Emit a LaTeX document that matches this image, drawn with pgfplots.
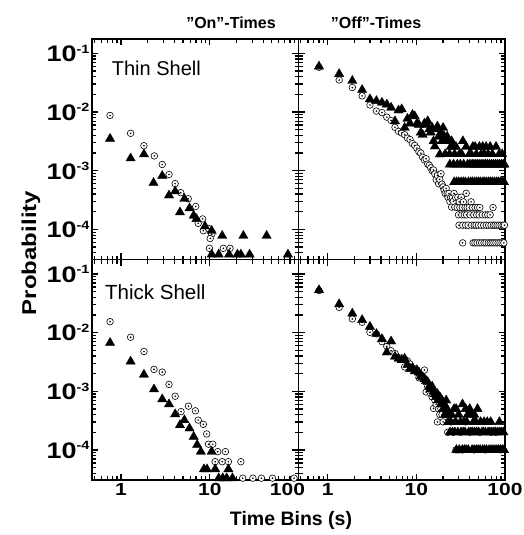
\documentclass[border=0pt]{standalone}
\usepackage{fontspec}
\setmainfont{Liberation Sans}
\newfontfamily\tickfont[FakeStretch=1.2]{Liberation Sans}
\usepackage{pgfplots}
\pgfplotsset{compat=1.18}
\usepgfplotslibrary{groupplots}

% open circle with a dot in the middle
\pgfdeclareplotmark{odot}{%
  \pgfpathcircle{\pgfpointorigin}{\pgfplotmarksize}%
  \pgfusepathqfillstroke
  \pgfpathcircle{\pgfpointorigin}{0.15\pgfplotmarksize}%
  \pgfusepathqfillstroke
}
\newcommand{\yl}[1]{10\raisebox{8.5pt}{\fontsize{12}{12}\selectfont #1}}
\newcommand{\qq}{\symbol{34}}

\pgfplotsset{
  circ/.style={only marks, mark=odot, mark size=3.3pt,
    mark options={draw=black, fill=white, line width=0.6pt}},
  tri/.style={only marks, mark=triangle*, mark size=5.4pt,
    mark options={draw=black, fill=black, line width=0.3pt}},
}

\begin{document}
\begin{tikzpicture}
\begin{groupplot}[
  group style={group size=2 by 2, horizontal sep=0pt, vertical sep=0pt,
    group name=G, x descriptions at=edge bottom, y descriptions at=edge left},
  scale only axis, width=206.5pt, height=220.5pt,
  xmode=log, ymode=log,
  xmin=0.47, xmax=100, ymin=3.07e-5, ymax=0.176,
  xtick={1,10,100}, ytick={1e-4,1e-3,1e-2,1e-1},
  minor xtick={0.5,0.6,0.7,0.8,0.9,2,3,4,5,6,7,8,9,20,30,40,50,60,70,80,90},
  minor ytick={4e-5,5e-5,6e-5,7e-5,8e-5,9e-5,2e-4,3e-4,4e-4,5e-4,6e-4,7e-4,8e-4,9e-4,
    2e-3,3e-3,4e-3,5e-3,6e-3,7e-3,8e-3,9e-3,2e-2,3e-2,4e-2,5e-2,6e-2,7e-2,8e-2,9e-2},
  xticklabels={1,10,100},
  yticklabels={\yl{-4},\yl{-3},\yl{-2},\yl{-1}},
  tick align=inside,
  major tick length=6.5pt, minor tick length=4pt,
  axis line style={line width=1.7pt},
  tick style={black, line width=1.2pt},
  x tick label style={font=\tickfont\bfseries\fontsize{17.5}{18}\selectfont},
  y tick label style={font=\tickfont\bfseries\fontsize{22.5}{22}\selectfont, xshift=1pt},
]

% ---- Thin shell, "On"-times
\nextgroupplot[clip=false]
\addplot[circ] coordinates {(0.75,8.77e-3) (1.28,4.34e-3) (1.81,2.67e-3) (2.37,1.79e-3)
  (2.91,1.28e-3) (3.47,8.63e-4) (4.07,6.04e-4) (4.70,4.23e-4) (5.71,3.33e-4) (6.94,2.46e-4)
  (7.40,1.27e-4) (8.30,1.51e-4) (8.45,9.5e-5) (9.66,1.04e-4) (10.5,8.3e-5) (10.1,7.0e-5)
  (9.9,4.76e-5) (14.2,4.76e-5) (16.9,4.76e-5)};
\addplot[tri] coordinates {(0.751,3.52e-3) (1.28,1.63e-3) (1.81,1.91e-3) (2.32,6.21e-4)
  (2.91,8.2e-4) (3.47,3.81e-4) (4.07,4.47e-4) (4.61,1.96e-4) (5.17,3.33e-4) (5.91,2.3e-4)
  (6.58,1.72e-4) (7.07,1.51e-4) (8.83,1.13e-4) (10.5,9.5e-5) (13.8,7.8e-5) (23.9,7.8e-5)
  (43.7,7.8e-5) (10.5,3.75e-5) (12.6,3.75e-5) (16.5,3.75e-5) (20.5,3.75e-5) (22.4,3.75e-5)
  (28.1,3.75e-5) (76,3.75e-5)};

% ---- Thin shell, "Off"-times
\nextgroupplot
\addplot[circ] coordinates {(0.8,0.058) (1.35,0.0352) (1.9,0.0262) (2.45,0.0189) (3.0,0.0132)
  (3.55,0.0104) (4.1,0.0098) (4.65,0.0082) (5.2,0.0072) (5.75,0.0055) (6.3,0.0047)
  (6.85,0.0044) (7.4,0.0041) (7.95,0.0036) (8.5,0.0034) (9.05,0.0029) (9.6,0.0027)
  (10.15,0.00243) (10.7,0.0021) (11.25,0.0020) (11.8,0.0017) (12.35,0.00153) (12.9,0.0016)
  (13.45,0.0013) (14.0,0.00124) (14.55,0.00112) (15.1,0.0010) (15.65,0.00103) (16.2,0.00088)
  (16.75,0.00071) (17.3,0.00083) (17.85,0.0006) (18.4,0.00071) (18.95,0.00089) (19.5,0.00059)
  (20.05,0.00053) (20.6,0.00047) (21.15,0.00041) (21.7,0.0005) (22.25,0.00041) (22.8,0.00035)
  (23.35,0.00041) (23.9,0.0003) (24.45,0.00035) (25.0,0.00024) (25.55,0.00035) (26.1,0.0003)
  (26.65,0.00041) (27.2,0.00024) (27.75,0.00035)
  (36.5,4.13e-4) (29.4,3.54e-4) (32.2,3.54e-4) (30.5,2.95e-4) (34.0,2.95e-4) (41.5,2.95e-4)
  (28.9,2.36e-4) (31.0,2.36e-4) (33.0,2.36e-4) (35.5,2.36e-4) (37.4,2.36e-4) (39.5,2.36e-4)
  (43.0,2.36e-4) (46.0,2.36e-4) (49.0,2.36e-4) (52.0,2.36e-4) (73.3,2.36e-4)
  (29.9,1.77e-4) (32.6,1.77e-4) (34.8,1.77e-4) (36.9,1.77e-4) (40.5,1.77e-4) (44.5,1.77e-4)
  (48.0,1.77e-4) (51.0,1.77e-4) (55.5,1.77e-4) (60.0,1.77e-4) (64.0,1.77e-4) (68.0,1.77e-4)
  (30.3,1.18e-4) (33.4,1.18e-4) (36.0,1.18e-4) (38.4,1.18e-4) (42.0,1.18e-4) (45.0,1.18e-4)
  (47.2,1.18e-4) (50.2,1.18e-4) (53.7,1.18e-4) (57.5,1.18e-4) (61.5,1.18e-4) (65.5,1.18e-4)
  (69.6,1.18e-4) (73.9,1.18e-4) (77.2,1.18e-4) (81.3,1.18e-4) (85.6,1.18e-4) (90.2,1.18e-4)
  (95.0,1.18e-4) (98.5,1.18e-4)
  (33.3,5.9e-5) (43.6,5.9e-5) (45.8,5.9e-5) (48.4,5.9e-5) (51.5,5.9e-5) (54.6,5.9e-5)
  (58.0,5.9e-5) (61.0,5.9e-5) (64.8,5.9e-5) (68.2,5.9e-5) (71.5,5.9e-5) (75.0,5.9e-5)
  (79.0,5.9e-5) (83.4,5.9e-5) (87.8,5.9e-5) (92.5,5.9e-5) (97.0,5.9e-5)};
\addplot[tri] coordinates {(0.8,0.060) (1.35,0.0447) (1.9,0.0342) (2.45,0.0239) (3.0,0.0166)
  (3.55,0.0155) (4.1,0.0145) (4.65,0.0135) (5.2,0.0119) (5.75,0.0070) (6.3,0.0107)
  (6.85,0.0112) (7.4,0.0054) (7.95,0.0077) (8.5,0.0064) (9.05,0.0090) (9.6,0.0085)
  (10.15,0.0064) (10.7,0.0061) (11.25,0.0045) (11.8,0.0041) (12.35,0.0064) (12.9,0.0061)
  (13.45,0.0070) (14.0,0.0051) (14.55,0.0045) (15.1,0.0054) (15.65,0.0032) (16.2,0.0026)
  (16.75,0.0051) (17.3,0.0057) (17.85,0.0038) (18.4,0.0019) (18.95,0.0045) (19.5,0.0032)
  (20.05,0.0054)
  (20.6,3.84e-3) (22.25,3.84e-3)
  (21.7,3.2e-3) (23.35,3.2e-3) (25.0,3.2e-3) (33.5,3.2e-3)
  (24.45,2.56e-3) (25.8,2.56e-3) (28.0,2.56e-3) (36.5,2.56e-3) (43.4,2.56e-3) (46.0,2.56e-3)
  (51.4,2.56e-3) (56.0,2.56e-3) (61.2,2.56e-3) (68.0,2.56e-3) (79.2,2.56e-3)
  (21.15,1.92e-3) (23.7,1.92e-3) (27.0,1.92e-3) (30.7,1.92e-3) (32.5,1.92e-3) (39.7,1.92e-3)
  (41.5,1.92e-3) (47.5,1.92e-3) (54.0,1.92e-3) (58.5,1.92e-3) (64.5,1.92e-3) (72.0,1.92e-3)
  (86.0,1.92e-3) (93.0,1.92e-3)
  (23.9,1.28e-3) (26.3,1.28e-3) (29.0,1.28e-3) (31.3,1.28e-3) (34.2,1.28e-3) (37.9,1.28e-3)
  (40.2,1.28e-3) (42.6,1.28e-3) (44.5,1.28e-3) (46.9,1.28e-3) (49.3,1.28e-3) (52.0,1.28e-3)
  (55.0,1.28e-3) (57.8,1.28e-3) (60.5,1.28e-3) (63.5,1.28e-3) (66.9,1.28e-3) (70.5,1.28e-3)
  (74.0,1.28e-3) (78.0,1.28e-3) (82.0,1.28e-3) (86.5,1.28e-3) (91.0,1.28e-3) (95.5,1.28e-3)
  (98.5,1.28e-3)
  (26.7,6.4e-4) (28.4,6.4e-4) (30.0,6.4e-4) (32.0,6.4e-4) (33.9,6.4e-4) (35.8,6.4e-4)
  (38.7,6.4e-4) (41.0,6.4e-4) (43.0,6.4e-4) (45.5,6.4e-4) (48.0,6.4e-4) (50.5,6.4e-4)
  (53.0,6.4e-4) (56.5,6.4e-4) (59.0,6.4e-4) (62.0,6.4e-4) (65.5,6.4e-4) (68.5,6.4e-4)
  (72.0,6.4e-4) (76.0,6.4e-4) (80.0,6.4e-4) (84.0,6.4e-4) (88.5,6.4e-4) (93.0,6.4e-4)
  (97.5,6.4e-4)};

% ---- Thick shell, "On"-times
\nextgroupplot[clip=false, xticklabels={1,10,{\hspace*{-22pt}100}}]
\addplot[circ] coordinates {(0.751,0.01535) (1.28,0.00833) (1.81,0.00476) (2.35,0.00236)
  (2.91,0.00212) (3.47,0.00131) (4.07,8.22e-4) (4.74,4.5e-4) (5.75,5.57e-4) (6.88,4.64e-4)
  (7.40,3.22e-4) (8.45,2.73e-4) (9.23,1.87e-4) (9.66,1.25e-4) (10.8,1.25e-4) (12.3,9.35e-5)
  (15.0,9.35e-5) (11.5,6.3e-5) (13.8,6.3e-5) (16.2,6.3e-5) (22.4,6.3e-5) (23.5,3.3e-5)
  (30.6,3.3e-5) (38.2,3.3e-5) (50.9,3.3e-5) (89,3.3e-5)};
\addplot[tri] coordinates {(0.751,0.00669) (1.28,0.00322) (1.81,0.00192) (2.35,0.00108)
  (2.91,7.31e-4) (3.47,6.02e-4) (4.07,4.07e-4) (4.61,2.65e-4) (5.17,3.22e-4) (5.91,2.33e-4)
  (6.58,1.68e-4) (7.2,1.22e-4) (7.93,9.35e-5) (10.5,9.35e-5) (8.59,4.7e-5) (9.3,4.7e-5)
  (11.5,4.7e-5) (16.2,4.7e-5) (12.6,3.3e-5) (14,3.3e-5) (15.5,3.3e-5) (18,3.3e-5)};

% ---- Thick shell, "Off"-times
\nextgroupplot
\addplot[circ] coordinates {(0.8,0.052) (1.35,0.0269) (1.9,0.0171) (2.45,0.0150) (3.0,0.0101)
  (3.55,0.0095) (4.1,0.0070) (4.65,0.0058) (5.2,0.0049) (5.75,0.0044) (6.3,0.0037)
  (6.85,0.0037) (7.4,0.0026) (7.95,0.0033) (8.5,0.0029) (9.05,0.0025) (9.6,0.0024)
  (10.15,0.0021) (10.7,0.0017) (11.25,0.0019) (11.8,0.0018) (12.35,0.0023) (12.9,0.00097)
  (13.45,0.0012) (14.0,0.0011) (14.55,0.0009) (15.1,0.0008) (15.65,0.00051) (16.2,0.0007)
  (16.75,0.0006) (17.3,0.0003) (17.85,0.0005) (18.4,0.0004) (18.95,0.0005) (19.5,0.0004)
  (20.05,0.0003) (21.15,4e-4) (22.6,2e-4) (24.6,3e-4) (26.1,2e-4) (28.0,1e-4) (30.0,1e-4)
  (31.6,2e-4) (33.0,1e-4) (36.0,3e-4) (40.0,2e-4) (45.0,1e-4) (52.0,2e-4) (60.0,1e-4)
  (70.0,2e-4) (79.0,2e-4) (90.0,1e-4)};
\addplot[tri] coordinates {(0.8,0.053) (1.35,0.0306) (1.9,0.0212) (2.45,0.0164) (3.0,0.0126)
  (3.55,0.0095) (4.1,0.0078) (4.65,0.0046) (5.2,0.0071) (5.75,0.0039) (6.3,0.0036)
  (6.85,0.0034) (7.4,0.0036) (7.95,0.0028) (8.5,0.0024) (9.05,0.0025) (9.6,0.0022)
  (10.15,0.0023) (10.7,0.0021) (11.25,0.0018) (11.8,0.00175) (12.35,0.0016) (12.9,0.0015)
  (13.45,0.00144) (14.0,0.0012) (14.55,0.0011) (15.1,0.0012) (15.65,0.0010) (16.2,0.0009)
  (16.75,0.0008) (17.3,0.0009) (17.85,0.0007) (18.4,0.0008) (18.95,0.0006) (19.5,0.0007)
  (20.05,0.0005) (20.6,0.0006) (21.15,0.0004) (21.7,0.0007) (22.25,0.0005) (22.8,0.0003)
  (23.35,0.0004)
  (33.2,6e-4)
  (26.65,5e-4) (28.1,5e-4) (36.0,5e-4) (40.0,5e-4) (49.0,5e-4)
  (25.0,4e-4) (30.0,4e-4) (38.0,4e-4) (42.0,4e-4) (45.0,4e-4)
  (24.45,3e-4) (27.75,3e-4) (31.5,3e-4) (34.5,3e-4) (37.0,3e-4) (44.0,3e-4) (47.0,3e-4)
  (53.0,3e-4) (58.0,3e-4) (63.0,3e-4) (69.0,3e-4) (86.5,3e-4)
  (23.9,2e-4) (25.55,2e-4) (27.2,2e-4) (29.4,2e-4) (32.0,2e-4) (33.8,2e-4) (35.5,2e-4)
  (39.0,2e-4) (41.2,2e-4) (43.0,2e-4) (45.5,2e-4) (48.0,2e-4) (50.5,2e-4) (55.0,2e-4)
  (57.0,2e-4) (60.0,2e-4) (64.5,2e-4) (67.5,2e-4) (71.0,2e-4) (75.0,2e-4) (78.5,2e-4)
  (83.0,2e-4) (87.5,2e-4) (92.0,2e-4) (96.0,2e-4)
  (28.3,1e-4) (30.5,1e-4) (33.0,1e-4) (34.8,1e-4) (36.5,1e-4) (38.5,1e-4) (42.5,1e-4)
  (44.8,1e-4) (47.5,1e-4) (50.0,1e-4) (52.5,1e-4) (56.0,1e-4) (59.0,1e-4) (62.0,1e-4)
  (66.0,1e-4) (69.5,1e-4) (73.0,1e-4) (77.0,1e-4) (81.0,1e-4) (85.0,1e-4) (89.0,1e-4)
  (93.5,1e-4) (97.5,1e-4)};
\end{groupplot}

\node[rotate=90, font=\tickfont\bfseries\fontsize{20}{20}\selectfont]
  at ([shift={(-61pt,-214pt)}]G c1r1.north west) {Probability};
\node[font=\bfseries\fontsize{19.5}{20}\selectfont]
  at ([shift={(199pt,-40pt)}]G c1r2.south west) {Time Bins (s)};
\node[anchor=base, inner sep=0pt, font=\bfseries\fontsize{16}{16}\selectfont]
  at ([shift={(139pt,11pt)}]G c1r1.north west) {\qq On\qq-Times};
\node[anchor=base, inner sep=0pt, font=\bfseries\fontsize{16}{16}\selectfont]
  at ([shift={(284pt,11pt)}]G c1r1.north west) {\qq Off\qq-Times};
\node[anchor=base west, inner sep=0pt, font=\fontsize{20}{20}\selectfont]
  at ([shift={(19.7pt,-36pt)}]G c1r1.north west) {Thin Shell};
\node[anchor=base west, inner sep=0pt, font=\fontsize{20.5}{20}\selectfont]
  at ([shift={(13pt,-40pt)}]G c1r2.north west) {Thick Shell};

\pgfresetboundingbox
\path[use as bounding box] ([shift={(-92pt,39pt)}]G c1r1.north west)
  rectangle ([shift={(18pt,-55pt)}]G c2r2.south east);
\end{tikzpicture}
\end{document}
